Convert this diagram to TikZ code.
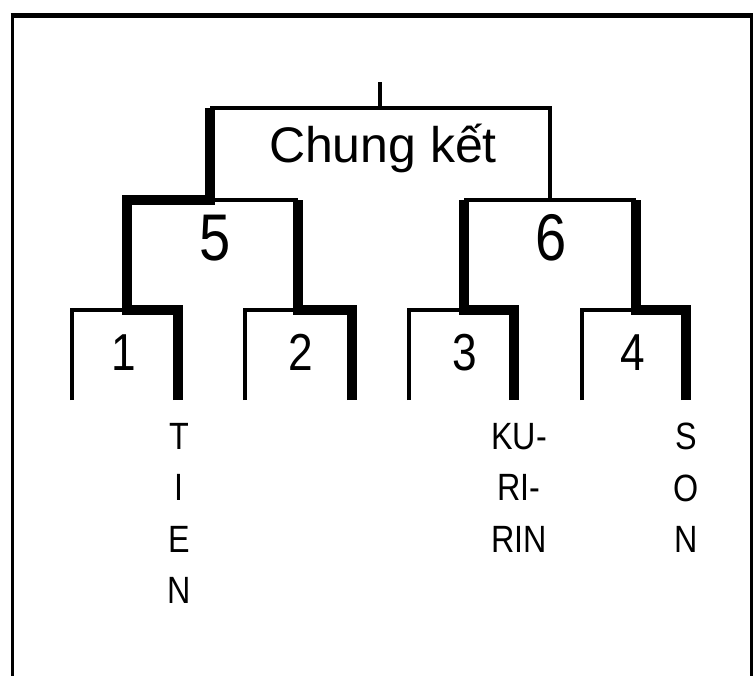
\documentclass[tikz,border=0pt]{standalone}
\usepackage{fontspec}
\setmainfont{Liberation Sans}[FakeStretch=0.85]
\newfontfamily\widefont{Liberation Sans}
\usetikzlibrary{positioning}

\begin{document}
\begin{tikzpicture}[x=1pt,y=-1pt,line join=miter,
    open/.style={line width=4pt},
    won/.style={line width=10pt},
    round1/.style={font=\fontsize{52}{52}\selectfont,anchor=base},
    round2/.style={font=\fontsize{66}{66}\selectfont,anchor=base},
    player/.style={font=\fontsize{38}{51.5}\selectfont,align=center,
                   anchor=north,inner sep=0pt}]
    \useasboundingbox (0,0) rectangle (754,676);
    \fill[white] (0,0) rectangle (754,676);

    % frame, open at the bottom
    \draw[line width=3pt] (12,676) -- (12,16);
    \draw[line width=3pt] (751,676) -- (751,16);
    \draw[line width=5pt] (10.5,16) -- (752.5,16);

    % first round: leaf ends and top corners
    \foreach \m/\l/\r in {1/72/178,2/245/352,3/409/514,4/582/686} {
      \coordinate (s\m l) at (\l,400);
      \coordinate (s\m r) at (\r,400);
      \coordinate (t\m l) at (\l,310);
      \coordinate (t\m r) at (\r,310);
    }
    % second round and final
    \coordinate (u5l) at (127,200);
    \coordinate (u5r) at (298,200);
    \coordinate (u6l) at (464,200);
    \coordinate (u6r) at (636,200);
    \coordinate (fl) at (210,108);
    \coordinate (fr) at (550,108);
    \coordinate (fm) at (380,108);
    \coordinate (top) at (380,82);

    % thin lines
    \foreach \m in {1,...,4}
      \draw[open] (s\m l) -- (t\m l) -- (t\m r);
    \draw[open] (u5l) -- (u5r);
    \draw[open] (u6l) -- (u6r);
    \draw[open] (fr |- u6l) -- (fr) -- (fl);
    \draw[open] (fm) -- (top);

    % winners so far
    \draw[won] (s1r) -- (t1r) -- (u5l |- t1r) -- (u5l) -- (fl |- u5l) -- (fl);
    \draw[won] (s2r) -- (t2r) -- (u5r |- t2r) -- (u5r);
    \draw[won] (s3r) -- (t3r) -- (u6l |- t3r) -- (u6l);
    \draw[won] (s4r) -- (t4r) -- (u6r |- t4r) -- (u6r);

    % labels
    \node[anchor=base,font=\widefont\fontsize{50}{50}\selectfont] (final) at (383,163) {Chung kết};
    \node[round2] (m5) at (215,260) {5};
    \node[round2] (m6) at (551,260) {6};
    \node[round1] (m1) at (124,370) {1};
    \node[round1] (m2) at (301,370) {2};
    \node[round1] (m3) at (465,370) {3};
    \node[round1] (m4) at (633,370) {4};

    \node[player] (tien) at (179,423) {T\\I\\E\\N};
    \node[player] (kuririn) at (519,423) {KU-\\RI-\\RIN};
    \node[player] (son) at (686,423) {S\\O\\N};
  \end{tikzpicture}
\end{document}
